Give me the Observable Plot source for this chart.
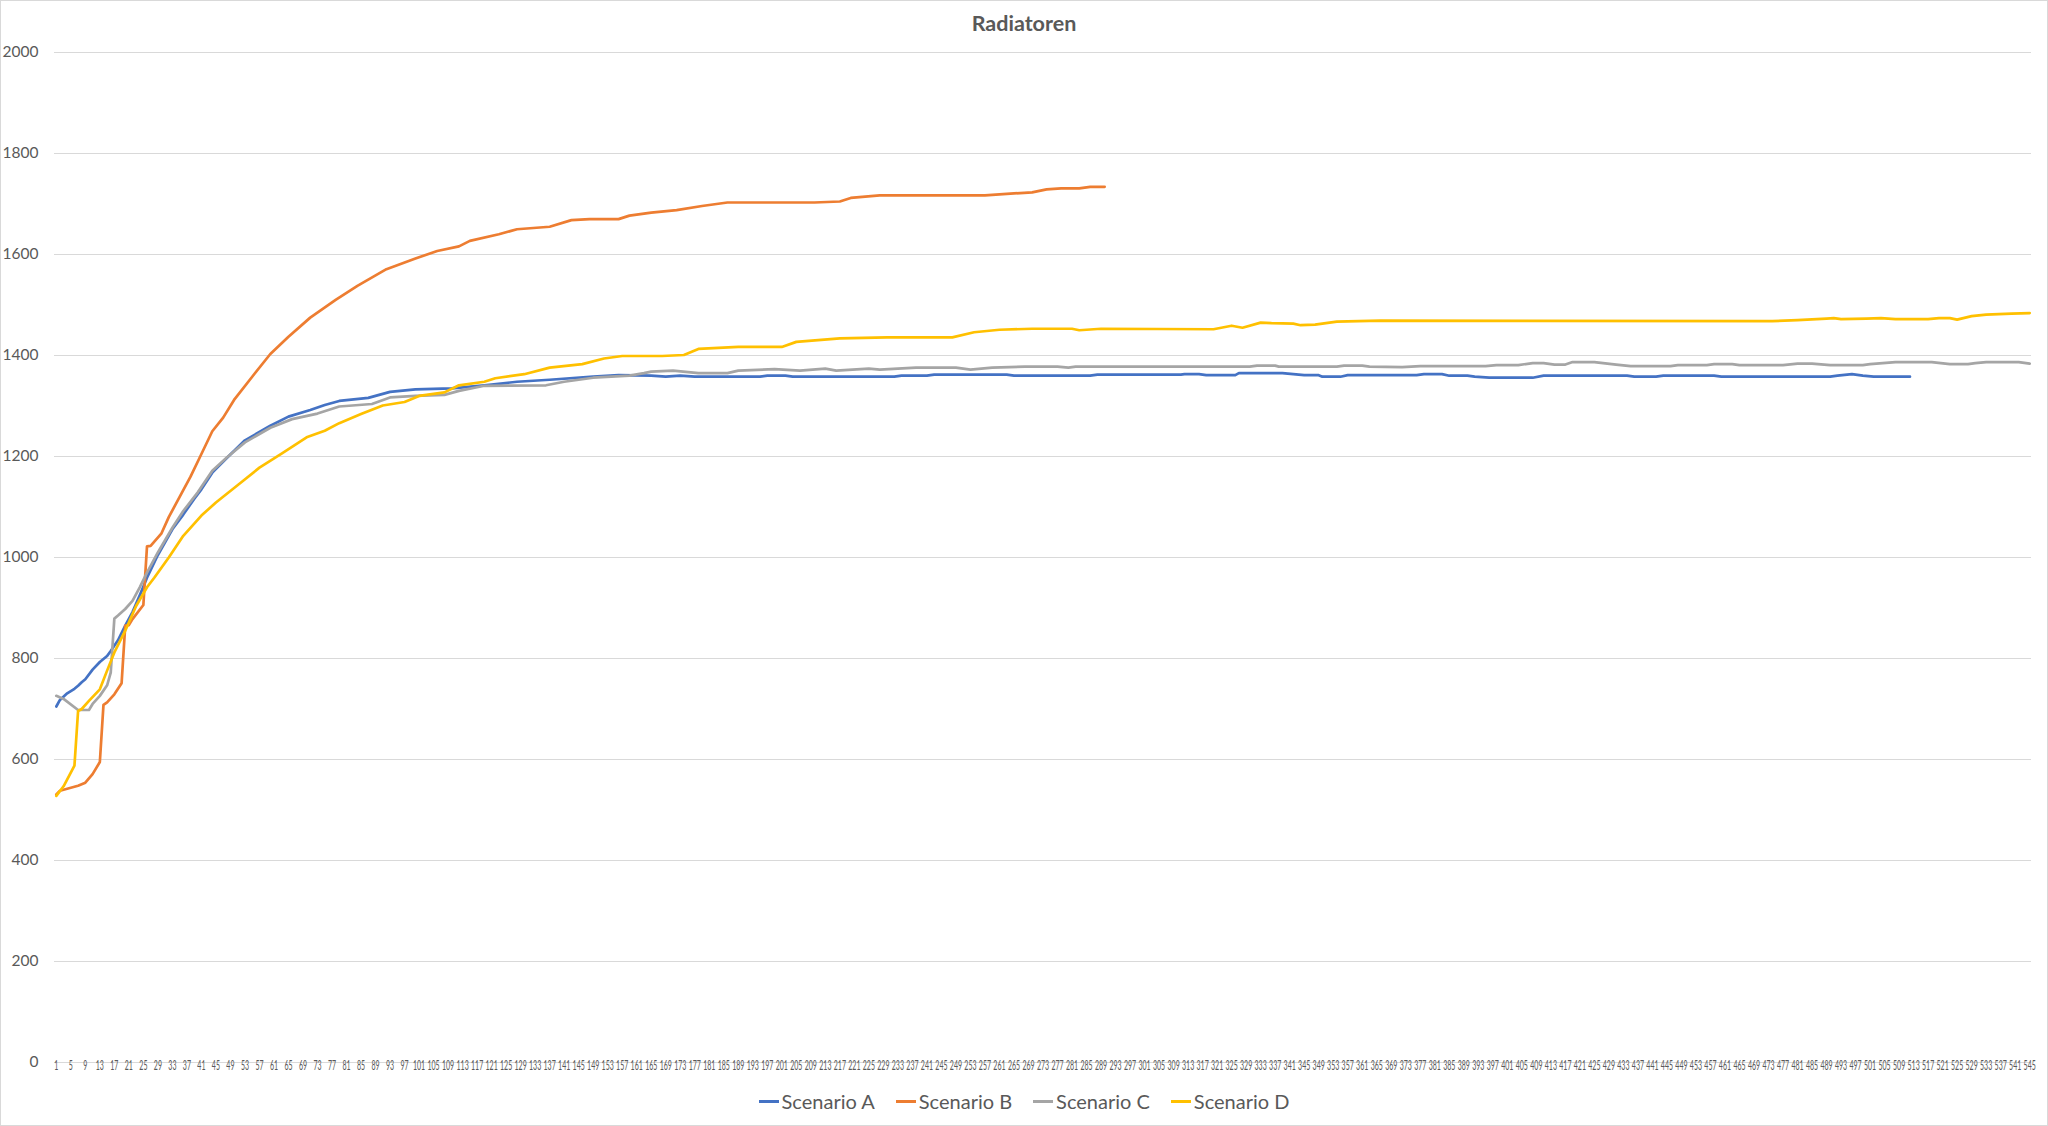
<!DOCTYPE html>
<html>
<head>
<meta charset="utf-8">
<script src="https://cdn.jsdelivr.net/npm/d3@7"></script>
<script src="https://cdn.jsdelivr.net/npm/@observablehq/plot@0.6"></script>
<style>
html, body { margin: 0; padding: 0; background: #fff; }
body { width: 2048px; height: 1126px; position: relative; overflow: hidden; font-family: Lato, "Open Sans", sans-serif; }
#frame { position: absolute; left: 0; top: 0; width: 2046px; height: 1124px; border: 1px solid #d9d9d9; pointer-events: none; }
#title { height: 40px; box-sizing: border-box; padding-top: 10px; line-height: 26px; text-align: center; font-weight: bold; font-size: 21.5px; color: #595959; }
#chart svg { display: block; }
#legend { display: flex; justify-content: center; gap: 21px; height: 30px; align-items: center; font-size: 20px; color: #595959; }
.item { display: flex; align-items: center; }
.swatch { width: 20px; height: 3px; margin-right: 3px; }
</style>
</head>
<body>
<div id="frame"></div>
<div id="title">Radiatoren</div>
<div id="chart"></div>
<div id="legend"></div>
<script>
// ---- data: [category index, value] ----
const seriesNames = ["Scenario A", "Scenario B", "Scenario C", "Scenario D"];
const seriesColors = ["#4472C4", "#ED7D31", "#A5A5A5", "#FFC000"];

const scenarioA = [[1,705],[2,718],[4,731],[6,740],[7,746],[8,753],[9,759],[11,778],[13,793],[15,805],[16,815],[18,836],[20,865],[22,892],[24,925],[26,960],[29,1005],[33,1056],[36,1085],[39,1116],[41,1135],[44,1168],[48,1197],[53,1232],[60,1261],[65,1279],[71,1292],[75,1302],[79,1310],[87,1316],[93,1328],[100,1333],[110,1335],[119,1341],[128,1348],[137,1352],[149,1358],[156,1361],[165,1360],[169,1358],[173,1360],[177,1358],[195,1358],[197,1360],[202,1360],[204,1358],[232,1358],[234,1360],[241,1360],[243,1362],[263,1362],[265,1360],[286,1360],[288,1362],[311,1362],[312,1363],[316,1363],[318,1361],[326,1361],[327,1365],[339,1365],[342,1363],[345,1361],[349,1361],[350,1358],[355,1358],[357,1361],[376,1361],[378,1363],[383,1363],[385,1360],[390,1360],[392,1358],[396,1356],[408,1356],[411,1360],[434,1360],[436,1358],[442,1358],[444,1360],[458,1360],[460,1358],[490,1358],[492,1360],[496,1363],[499,1360],[502,1358],[512,1358]];

const scenarioB = [[1,531],[2,538],[4,542],[7,548],[9,554],[11,571],[13,595],[14,708],[15,713],[17,729],[19,751],[20,865],[21,866],[22,878],[25,906],[26,1022],[27,1023],[30,1048],[32,1080],[35,1120],[38,1160],[41,1205],[44,1250],[47,1277],[50,1312],[55,1358],[60,1403],[65,1437],[71,1475],[78,1510],[84,1538],[92,1571],[100,1592],[106,1607],[112,1616],[115,1627],[123,1640],[128,1650],[137,1655],[143,1668],[148,1670],[156,1670],[159,1677],[165,1683],[172,1688],[179,1696],[186,1703],[210,1703],[217,1705],[220,1712],[228,1717],[257,1717],[265,1721],[270,1723],[274,1729],[278,1731],[283,1731],[286,1734],[290,1734]];

const scenarioC = [[1,726],[3,720],[7,698],[10,698],[11,710],[13,726],[15,747],[16,772],[17,879],[18,885],[20,898],[22,914],[24,941],[26,970],[29,1010],[33,1059],[36,1092],[40,1129],[44,1172],[48,1198],[53,1228],[60,1257],[66,1274],[73,1285],[79,1299],[88,1304],[93,1317],[100,1320],[108,1322],[112,1330],[119,1340],[136,1341],[141,1348],[149,1356],[159,1360],[163,1365],[165,1368],[171,1370],[178,1365],[186,1365],[189,1370],[199,1373],[206,1370],[213,1374],[216,1370],[225,1374],[228,1372],[238,1376],[249,1376],[253,1372],[259,1376],[268,1378],[277,1378],[280,1376],[282,1378],[330,1378],[332,1380],[337,1380],[338,1378],[354,1378],[356,1380],[361,1380],[363,1378],[372,1377],[377,1379],[395,1379],[398,1381],[404,1381],[408,1385],[411,1385],[414,1382],[417,1382],[419,1387],[425,1387],[431,1382],[435,1379],[446,1379],[448,1381],[456,1381],[458,1383],[463,1383],[465,1381],[477,1381],[481,1384],[485,1384],[490,1381],[499,1381],[501,1383],[508,1387],[518,1387],[523,1383],[528,1383],[530,1385],[533,1387],[542,1387],[545,1384]];

const scenarioD = [[1,528],[3,547],[6,588],[7,696],[8,700],[10,716],[13,739],[15,776],[17,812],[20,855],[23,904],[26,941],[28,960],[32,1000],[36,1043],[41,1083],[45,1109],[52,1149],[57,1178],[63,1205],[70,1238],[75,1251],[79,1266],[85,1284],[91,1301],[97,1308],[101,1320],[108,1327],[112,1341],[119,1348],[122,1355],[130,1363],[137,1376],[146,1383],[152,1394],[157,1399],[168,1399],[174,1401],[178,1413],[189,1417],[201,1417],[205,1427],[217,1434],[230,1436],[248,1436],[254,1446],[261,1451],[270,1453],[281,1453],[283,1450],[289,1453],[320,1452],[325,1459],[328,1455],[333,1465],[336,1464],[342,1463],[344,1460],[348,1461],[354,1467],[366,1469],[474,1468],[481,1470],[489,1473],[491,1474],[493,1472],[500,1473],[504,1474],[508,1472],[517,1472],[520,1474],[523,1474],[525,1471],[529,1478],[533,1481],[540,1483],[545,1484]];

const categoryCount = 545;
const xTickValues = d3.range(1, categoryCount + 1, 4);
const yTickValues = d3.range(0, 2001, 200);

// ---- build table ----
const allSeries = [scenarioA, scenarioB, scenarioC, scenarioD];
const rows = [];
allSeries.forEach((s, k) => s.forEach(([i, v]) => rows.push({ name: seriesNames[k], i, v })));

const plot = Plot.plot({
  width: 2048,
  height: 1046,
  marginTop: 12,
  marginBottom: 24,
  marginLeft: 54,
  marginRight: 17,
  style: { fontFamily: "Lato, 'Open Sans', sans-serif", color: "#595959", background: "white" },
  x: { type: "linear", domain: [0.5, categoryCount + 0.5] },
  y: { domain: [0, 2000] },
  color: { domain: seriesNames, range: seriesColors },
  marks: [
    Plot.gridY(yTickValues, { stroke: "#d9d9d9", strokeOpacity: 1, strokeWidth: 1 }),
    Plot.axisY(yTickValues, { tickSize: 0, tickPadding: 16, tickFormat: d => String(d), fontSize: 15.5, label: null }),
    Plot.axisX(xTickValues, { tickSize: 0, tickPadding: 7, tickFormat: d => String(d), fontSize: 13, label: null }),
    Plot.line(rows, { x: "i", y: "v", z: "name", stroke: "name", strokeWidth: 2.7, strokeLinejoin: "round", strokeLinecap: "round" })
  ]
});

// condense the crowded category labels horizontally, like the original
d3.select(plot).selectAll('g[aria-label="x-axis tick label"] text').each(function () {
  const tr = this.getAttribute("transform") || "";
  const x = +this.getAttribute("x") || 0;
  const y = +this.getAttribute("y") || 0;
  this.removeAttribute("x");
  this.removeAttribute("y");
  this.setAttribute("transform", `${tr} translate(${x},${y}) scale(0.54,1)`);
});

document.getElementById("chart").appendChild(plot);

// legend
const legend = d3.select("#legend");
seriesNames.forEach((n, k) => {
  const it = legend.append("div").attr("class", "item");
  it.append("div").attr("class", "swatch").style("background", seriesColors[k]);
  it.append("span").text(n);
});
</script>
</body>
</html>
